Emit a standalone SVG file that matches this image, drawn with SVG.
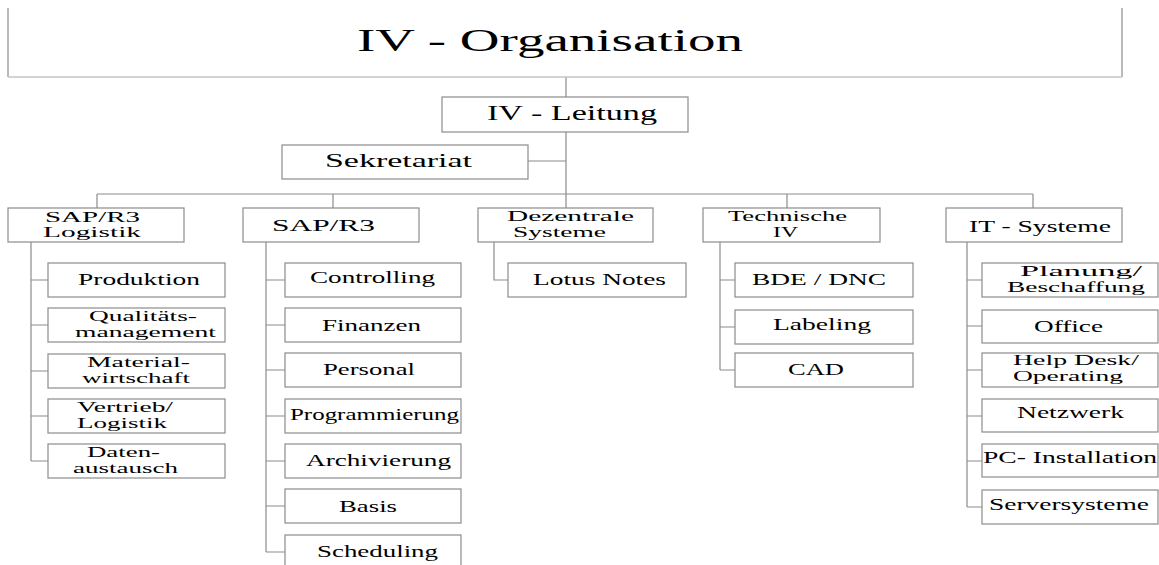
<svg xmlns="http://www.w3.org/2000/svg" width="1159" height="565" viewBox="0 0 1159 565">
<style>
.b{fill:#fff;stroke:#8c8c8c;stroke-width:1.2}
.c{fill:none;stroke:#8c8c8c;stroke-width:1.2}
text{font-family:"Liberation Serif","Times New Roman",serif;fill:#000}
.t{font-size:17px}
.t2{font-size:14px}
</style>
<rect width="1159" height="565" fill="#fff"/>
<g id="connectors">
<path class="c" d="M566,77V97M566,132V208M528,161H566M97,194H1033M97,194V208M333,194V208M787,194V208M1033,194V208"/>
<path class="c" d="M31,242V461M31,280H48M31,325H48M31,371H48M31,416H48M31,461H48"/>
<path class="c" d="M266,242V552M266,280H285M266,325H285M266,370H285M266,416H285M266,461H285M266,506H285M266,552H285"/>
<path class="c" d="M494,242V280H508"/>
<path class="c" d="M720,242V370M720,280H735M720,327H735M720,370H735"/>
<path class="c" d="M967,242V507M967,280H982M967,326H982M967,370H982M967,416H982M967,461H982M967,507H982"/>
</g>
<g id="top"><path fill="none" stroke="#8c8c8c" stroke-width="1.2" d="M8,8V77M1122,8V77"/><path fill="none" stroke="#c4c4c4" stroke-width="1.5" d="M8,77H1122"/><text x="357" y="51" font-size="31" textLength="386" lengthAdjust="spacingAndGlyphs">IV - Organisation</text></g>
<g id="leitung"><rect class="b" x="442" y="97" width="246" height="35"/><text x="487" y="120" font-size="20" textLength="170" lengthAdjust="spacingAndGlyphs">IV - Leitung</text></g>
<g id="sekretariat"><rect class="b" x="282" y="145" width="246" height="34"/><text x="325" y="167" font-size="19" textLength="147" lengthAdjust="spacingAndGlyphs">Sekretariat</text></g>
<g id="sap-logistik"><rect class="b" x="8" y="208" width="176" height="34"/><text class="t2" x="45" y="222" textLength="95" lengthAdjust="spacingAndGlyphs">SAP/R3</text><text class="t2" x="43" y="237" textLength="98" lengthAdjust="spacingAndGlyphs">Logistik</text></g>
<g id="sap"><rect class="b" x="243" y="208" width="176" height="34"/><text class="t" x="272" y="231" textLength="103" lengthAdjust="spacingAndGlyphs">SAP/R3</text></g>
<g id="dezentrale"><rect class="b" x="478" y="208" width="175" height="34"/><text class="t2" x="507" y="221" textLength="127" lengthAdjust="spacingAndGlyphs">Dezentrale</text><text class="t2" x="513" y="237" textLength="93" lengthAdjust="spacingAndGlyphs">Systeme</text></g>
<g id="technische"><rect class="b" x="703" y="208" width="177" height="34"/><text class="t2" x="728" y="221" textLength="119" lengthAdjust="spacingAndGlyphs">Technische</text><text class="t2" x="773" y="237" textLength="25" lengthAdjust="spacingAndGlyphs">IV</text></g>
<g id="it-systeme"><rect class="b" x="946" y="208" width="176" height="34"/><text class="t" x="969" y="232" textLength="142" lengthAdjust="spacingAndGlyphs">IT - Systeme</text></g>
<g id="produktion"><rect class="b" x="48" y="263" width="177" height="34"/><text class="t" x="78" y="285" textLength="122" lengthAdjust="spacingAndGlyphs">Produktion</text></g>
<g id="qualitaet"><rect class="b" x="48" y="308" width="177" height="34"/><text class="t2" x="89" y="321" textLength="108" lengthAdjust="spacingAndGlyphs">Qualitäts-</text><text class="t2" x="75" y="337" textLength="141" lengthAdjust="spacingAndGlyphs">management</text></g>
<g id="material"><rect class="b" x="48" y="354" width="177" height="34"/><text class="t2" x="87" y="367" textLength="103" lengthAdjust="spacingAndGlyphs">Material-</text><text class="t2" x="82" y="383" textLength="108" lengthAdjust="spacingAndGlyphs">wirtschaft</text></g>
<g id="vertrieb"><rect class="b" x="48" y="399" width="177" height="34"/><text class="t2" x="77" y="412" textLength="96" lengthAdjust="spacingAndGlyphs">Vertrieb/</text><text class="t2" x="77" y="428" textLength="90" lengthAdjust="spacingAndGlyphs">Logistik</text></g>
<g id="daten"><rect class="b" x="48" y="444" width="177" height="34"/><text class="t2" x="87" y="457" textLength="73" lengthAdjust="spacingAndGlyphs">Daten-</text><text class="t2" x="73" y="473" textLength="105" lengthAdjust="spacingAndGlyphs">austausch</text></g>
<g id="controlling"><rect class="b" x="285" y="263" width="176" height="34"/><text class="t" x="310" y="283" textLength="125" lengthAdjust="spacingAndGlyphs">Controlling</text></g>
<g id="finanzen"><rect class="b" x="285" y="308" width="176" height="34"/><text class="t" x="322" y="331" textLength="99" lengthAdjust="spacingAndGlyphs">Finanzen</text></g>
<g id="personal"><rect class="b" x="285" y="353" width="176" height="34"/><text class="t" x="323" y="375" textLength="92" lengthAdjust="spacingAndGlyphs">Personal</text></g>
<g id="programmierung"><rect class="b" x="285" y="399" width="176" height="34"/><text class="t" x="290" y="420" textLength="169" lengthAdjust="spacingAndGlyphs">Programmierung</text></g>
<g id="archivierung"><rect class="b" x="285" y="444" width="176" height="34"/><text class="t" x="306" y="466" textLength="145" lengthAdjust="spacingAndGlyphs">Archivierung</text></g>
<g id="basis"><rect class="b" x="285" y="489" width="176" height="34"/><text class="t" x="339" y="512" textLength="58" lengthAdjust="spacingAndGlyphs">Basis</text></g>
<g id="scheduling"><rect class="b" x="285" y="535" width="176" height="34"/><text class="t" x="317" y="557" textLength="121" lengthAdjust="spacingAndGlyphs">Scheduling</text></g>
<g id="lotus"><rect class="b" x="508" y="263" width="178" height="34"/><text class="t" x="533" y="285" textLength="133" lengthAdjust="spacingAndGlyphs">Lotus Notes</text></g>
<g id="bde"><rect class="b" x="735" y="263" width="178" height="34"/><text class="t" x="752" y="285" textLength="134" lengthAdjust="spacingAndGlyphs">BDE / DNC</text></g>
<g id="labeling"><rect class="b" x="735" y="310" width="178" height="34"/><text class="t" x="773" y="330" textLength="98" lengthAdjust="spacingAndGlyphs">Labeling</text></g>
<g id="cad"><rect class="b" x="735" y="353" width="178" height="34"/><text class="t" x="788" y="375" textLength="56" lengthAdjust="spacingAndGlyphs">CAD</text></g>
<g id="planung"><rect class="b" x="982" y="263" width="176" height="34"/><text class="t2" x="1020" y="276" textLength="122" lengthAdjust="spacingAndGlyphs">Planung/</text><text class="t2" x="1007" y="292" textLength="138" lengthAdjust="spacingAndGlyphs">Beschaffung</text></g>
<g id="office"><rect class="b" x="982" y="310" width="176" height="33"/><text class="t" x="1034" y="332" textLength="69" lengthAdjust="spacingAndGlyphs">Office</text></g>
<g id="helpdesk"><rect class="b" x="982" y="353" width="176" height="34"/><text class="t2" x="1013" y="365" textLength="126" lengthAdjust="spacingAndGlyphs">Help Desk/</text><text class="t2" x="1013" y="381" textLength="110" lengthAdjust="spacingAndGlyphs">Operating</text></g>
<g id="netzwerk"><rect class="b" x="982" y="399" width="176" height="33"/><text class="t" x="1017" y="418" textLength="107" lengthAdjust="spacingAndGlyphs">Netzwerk</text></g>
<g id="pc"><rect class="b" x="982" y="444" width="176" height="33"/><text class="t" x="983" y="463" textLength="174" lengthAdjust="spacingAndGlyphs">PC- Installation</text></g>
<g id="server"><rect class="b" x="982" y="490" width="176" height="34"/><text class="t" x="989" y="510" textLength="160" lengthAdjust="spacingAndGlyphs">Serversysteme</text></g>
</svg>
